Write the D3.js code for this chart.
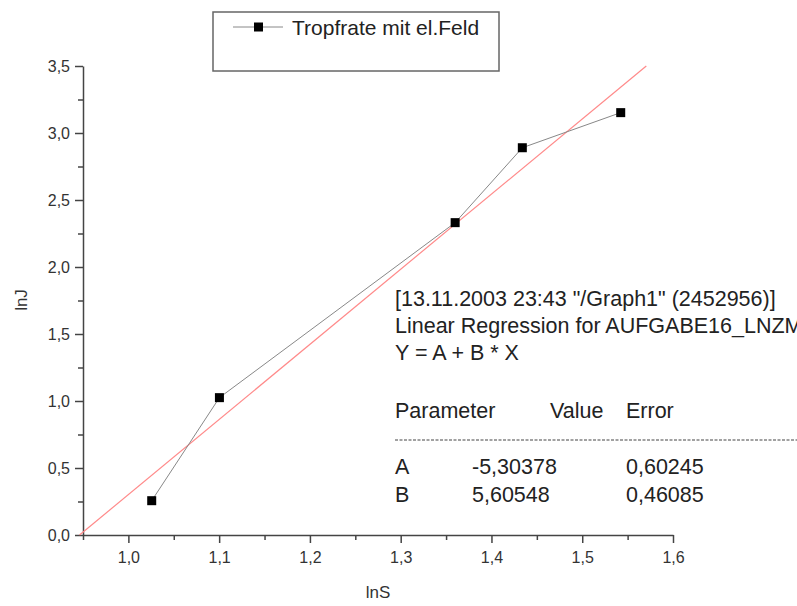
<!DOCTYPE html>
<html>
<head>
<meta charset="utf-8">
<script src="https://cdn.jsdelivr.net/npm/d3@7"></script>
<style>
  body { margin: 0; background: #fff; }
  svg { display: block; font-family: "Liberation Sans", Arial, sans-serif; }
  .axis path, .axis line { stroke: #444; }
  .axis text { fill: #333; font-size: 16px; }
</style>
</head>
<body>
<div id="chart"></div>
<script>
// measured points
var lnS = [1.0257, 1.1003, 1.360, 1.434, 1.5424];
var lnJ = [0.256, 1.025, 2.331, 2.89, 3.152];
var xTicks = [1.0, 1.1, 1.2, 1.3, 1.4, 1.5, 1.6];
var yTicks = [0.0, 0.5, 1.0, 1.5, 2.0, 2.5, 3.0, 3.5];
var seriesName = "Tropfrate mit el.Feld";
// fit results
var paramA = -5.30378, paramB = 5.60548;
var errA = 0.60245, errB = 0.46085;
var fitHeader = [
  '[13.11.2003 23:43 "/Graph1" (2452956)]',
  'Linear Regression for AUFGABE16_LNZM:',
  'Y = A + B * X'
];

(function() {
    var width = 797, height = 606;
    var de = d3.formatLocale({decimal: ",", thousands: ".", grouping: [3], currency: ["", " €"]});
    var f1 = de.format(".1f");
    var f5 = de.format(".5f");

    var svg = d3.select("#chart").append("svg")
        .attr("width", width)
        .attr("height", height);

    var x = d3.scaleLinear().domain([0.95, 1.6]).range([83, 673]);
    var y = d3.scaleLinear().domain([0, 3.5]).range([535, 66]);

    // minor ticks first
    svg.append("g").attr("class", "axis")
        .attr("transform", "translate(0,535)")
        .call(d3.axisBottom(x).tickValues(d3.range(0.95, 1.6, 0.1)).tickSize(5).tickFormat(""))
        .call(g => g.select(".domain").remove());
    svg.append("g").attr("class", "axis")
        .attr("transform", "translate(83,0)")
        .call(d3.axisLeft(y).tickValues(d3.range(0.25, 3.5, 0.5)).tickSize(5).tickFormat(""))
        .call(g => g.select(".domain").remove());

    var xAxis = svg.append("g").attr("class", "axis")
        .attr("transform", "translate(0,535)")
        .call(d3.axisBottom(x).tickValues(xTicks).tickSize(8).tickSizeOuter(0).tickPadding(9).tickFormat(f1));
    var yAxis = svg.append("g").attr("class", "axis")
        .attr("transform", "translate(83,0)")
        .call(d3.axisLeft(y).tickValues(yTicks).tickSize(8).tickSizeOuter(0).tickPadding(5).tickFormat(f1));
    svg.selectAll(".axis path, .axis line").attr("stroke-width", 1.5);

    svg.append("text")
        .attr("x", (83 + 673) / 2)
        .attr("y", 598)
        .attr("text-anchor", "middle")
        .attr("font-size", 17)
        .attr("fill", "#333")
        .text("lnS");
    svg.append("text")
        .attr("transform", "translate(27,300) rotate(-90)")
        .attr("text-anchor", "middle")
        .attr("font-size", 17)
        .attr("fill", "#333")
        .text("lnJ");

    // regression line clipped to y range
    var x0 = (0 - paramA) / paramB, x1 = (3.5 - paramA) / paramB;
    svg.append("line")
        .attr("x1", x(x0)).attr("y1", y(paramA + paramB * x0))
        .attr("x2", x(x1)).attr("y2", y(paramA + paramB * x1))
        .attr("stroke", "#ff8a8a")
        .attr("stroke-width", 1.2);

    var pts = lnS.map((d, i) => ({x: d, y: lnJ[i]}));
    svg.append("path")
        .datum(pts)
        .attr("fill", "none")
        .attr("stroke", "#888")
        .attr("stroke-width", 1)
        .attr("d", d3.line().x(d => x(d.x)).y(d => y(d.y)));

    svg.selectAll(".pt")
        .data(pts)
        .enter().append("rect")
        .attr("x", d => x(d.x) - 4.5)
        .attr("y", d => y(d.y) - 4.5)
        .attr("width", 9)
        .attr("height", 9)
        .attr("fill", "#000");

    // legend
    var lg = svg.append("g");
    lg.append("rect")
        .attr("x", 213).attr("y", 12)
        .attr("width", 286).attr("height", 59)
        .attr("fill", "#fff")
        .attr("stroke", "#666")
        .attr("stroke-width", 1.5);
    lg.append("line")
        .attr("x1", 233).attr("x2", 283).attr("y1", 27).attr("y2", 27)
        .attr("stroke", "#888");
    lg.append("rect")
        .attr("x", 254).attr("y", 22.5).attr("width", 9).attr("height", 9)
        .attr("fill", "#000");
    lg.append("text")
        .attr("x", 292).attr("y", 35)
        .attr("font-size", 21)
        .attr("fill", "#222")
        .text(seriesName);

    // fit report
    var tb = svg.append("g").attr("font-size", 21.5).attr("fill", "#222");
    fitHeader.forEach((s, i) => {
        tb.append("text").attr("x", 395).attr("y", 306 + i * 27).text(s);
    });
    tb.append("text").attr("x", 395).attr("y", 418).text("Parameter");
    tb.append("text").attr("x", 550).attr("y", 418).text("Value");
    tb.append("text").attr("x", 626).attr("y", 418).text("Error");
    svg.append("line")
        .attr("x1", 395).attr("x2", 800).attr("y1", 440).attr("y2", 440)
        .attr("stroke", "#444")
        .attr("stroke-width", 1.2)
        .attr("stroke-dasharray", "3,1.5");
    var rows = [["A", paramA, errA], ["B", paramB, errB]];
    rows.forEach((r, i) => {
        var yy = 474 + i * 28;
        tb.append("text").attr("x", 395).attr("y", yy).text(r[0]);
        tb.append("text").attr("x", 472).attr("y", yy).text(f5(r[1]).replace("−", "-"));
        tb.append("text").attr("x", 626).attr("y", yy).text(f5(r[2]));
    });
})();
</script>
</body>
</html>
